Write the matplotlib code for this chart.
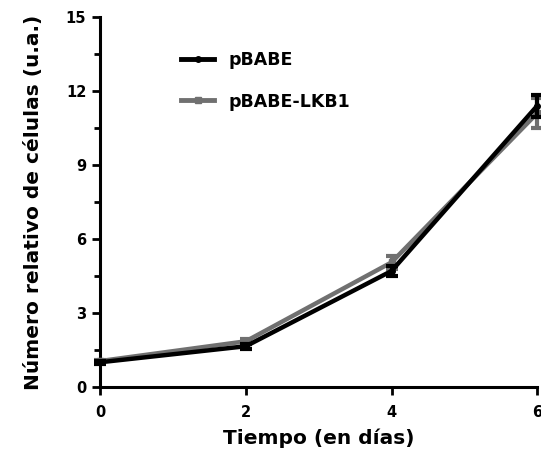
import matplotlib
matplotlib.use("Agg")
import matplotlib.pyplot as plt
from matplotlib.lines import Line2D
import numpy as np

dias = [0, 2, 4, 6]
pbabe = [1.0, 1.65, 4.7, 11.4]
pbabe_err = [0.05, 0.1, 0.2, 0.45]
lkb1 = [1.05, 1.85, 5.05, 11.1]
lkb1_err = [0.05, 0.1, 0.25, 0.6]

plt.rcParams['font.family'] = ['DejaVu Sans']
plt.rcParams['font.weight'] = 'bold'

fig = plt.figure(figsize=(5.41, 4.59), dpi=100)
ax = fig.add_axes([0.185, 0.157, 0.808, 0.806])

ax.errorbar(dias, lkb1, yerr=lkb1_err, color='#707070', lw=3.2, marker='s', ms=5,
            capsize=4, elinewidth=3, capthick=3, clip_on=False, zorder=3)
ax.errorbar(dias, pbabe, yerr=pbabe_err, color='black', lw=3.2, marker='o', ms=4,
            capsize=4, elinewidth=3, capthick=3, clip_on=False, zorder=4)

ax.set_xlim(0, 6)
ax.set_ylim(0, 15)
ax.set_xticks([0, 2, 4, 6])
ax.set_yticks([0, 3, 6, 9, 12, 15])
ax.set_yticks(np.arange(1.5, 15, 3), minor=True)
ax.spines['top'].set_visible(False)
ax.spines['right'].set_visible(False)
ax.spines['left'].set_linewidth(2.2)
ax.spines['bottom'].set_linewidth(2.2)
ax.tick_params(axis='both', which='major', length=6, width=2, labelsize=10.5)
ax.tick_params(axis='x', pad=7)
ax.tick_params(axis='y', pad=4)
ax.tick_params(axis='y', which='minor', length=4, width=2)
for lab in ax.get_xticklabels() + ax.get_yticklabels():
    lab.set_fontweight('bold')

ax.set_xlabel('Tiempo (en días)', fontsize=14.5, fontweight='bold', labelpad=6)
ax.set_ylabel('Número relativo de células (u.a.)', fontsize=14.5, fontweight='bold', labelpad=16)

handles = [Line2D([], [], color='black', lw=3.5, marker='o', ms=4),
           Line2D([], [], color='#707070', lw=3.5, marker='s', ms=5)]
leg = ax.legend(handles, ['pBABE', 'pBABE-LKB1'], loc='upper left', bbox_to_anchor=(0.15, 0.95),
                frameon=False, fontsize=12.5, handlelength=1.9, labelspacing=1.35, handletextpad=0.8)
for t in leg.get_texts():
    t.set_fontweight('bold')

fig.savefig('out.png', dpi=100)
